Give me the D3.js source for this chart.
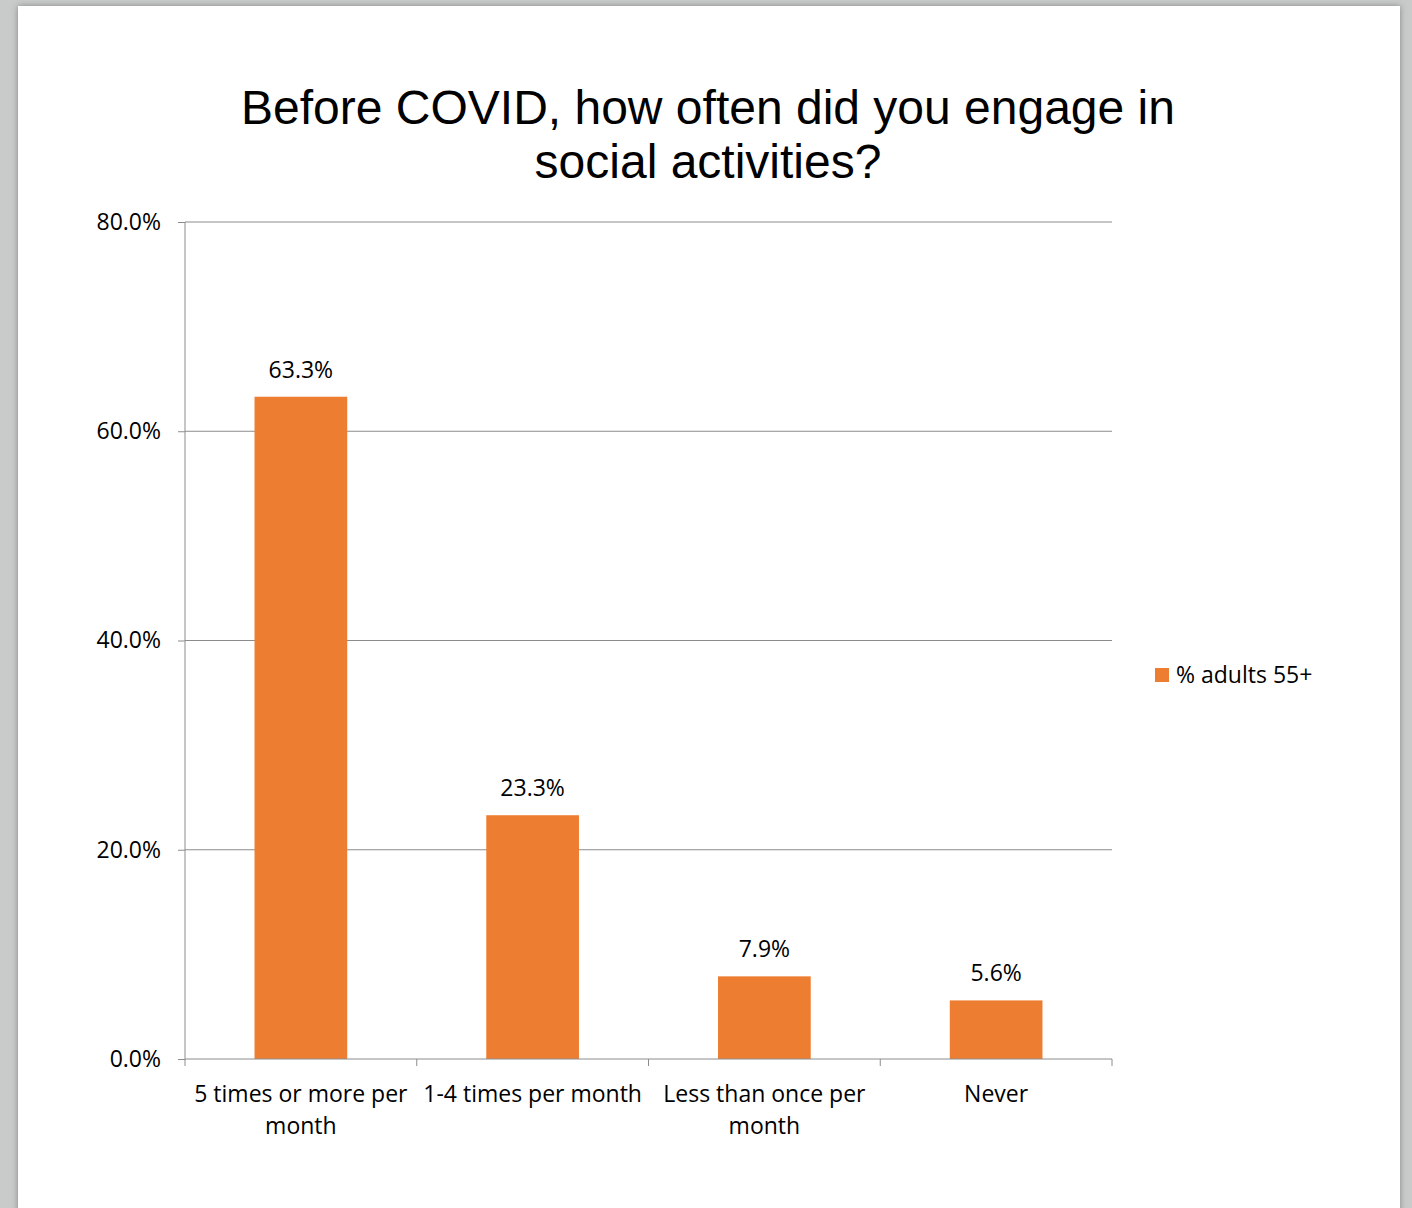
<!DOCTYPE html>
<html>
<head>
<meta charset="utf-8">
<script src="https://cdn.jsdelivr.net/npm/d3@7"></script>
<style>
  html, body { margin: 0; padding: 0; background: #c9cbca; }
  #chart { width: 1412px; height: 1208px; }
</style>
</head>
<body>
<div id="chart"></div>
<script>
// Datos del gráfico
const categories = [["5 times or more per", "month"], ["1-4 times per month"], ["Less than once per", "month"], ["Never"]];
const values = [63.3, 23.3, 7.9, 5.6];
const yTicks = [0, 20, 40, 60, 80];
const seriesName = "% adults 55+";
const titleLines = ["Before COVID, how often did you engage in", "social activities?"];

const W = 1412, H = 1208;
const margin = { top: 222, right: 300, bottom: 149, left: 185 };
const width = W - margin.left - margin.right;   // 927
const height = H - margin.top - margin.bottom;  // 837

const root = d3.select("#chart").html('')
  .append('svg')
  .attr('width', W)
  .attr('height', H);

// Fondo de página con sombra
const defs = root.append('defs');
const f = defs.append('filter').attr('id', 'shadow').attr('x', '-5%').attr('y', '-5%').attr('width', '110%').attr('height', '110%');
f.append('feDropShadow').attr('dx', 0).attr('dy', 0).attr('stdDeviation', 3).attr('flood-color', '#555').attr('flood-opacity', 0.6);

root.append('rect').attr('x', 0).attr('y', 0).attr('width', W).attr('height', H).attr('fill', '#c9cbca');
root.append('rect')
  .attr('x', 18).attr('y', 6).attr('width', 1382).attr('height', H)
  .attr('fill', '#fff')
  .attr('filter', 'url(#shadow)');

// Título
root.append('text')
  .attr('text-anchor', 'middle')
  .attr('font-family', '"Liberation Sans", Arial, sans-serif')
  .attr('font-size', 48)
  .attr('fill', '#000')
  .selectAll('tspan')
  .data(titleLines)
  .enter()
  .append('tspan')
  .attr('x', 708)
  .attr('y', (d, i) => 124 + i * 54)
  .text(d => d);

const svg = root.append('g')
  .attr('transform', `translate(${margin.left},${margin.top})`);

// Escalas
const x = d3.scaleBand()
  .domain(d3.range(categories.length))
  .range([0, width])
  .paddingInner(0)
  .paddingOuter(0);

const y = d3.scaleLinear()
  .domain([0, 80])
  .range([height, 0]);

const fontFam = '"Open Sans", sans-serif';
const fs = 23;

// Líneas de cuadrícula
svg.append('g')
  .selectAll('line')
  .data(yTicks.slice(1))
  .enter()
  .append('line')
  .attr('x1', 0).attr('x2', width)
  .attr('y1', d => y(d)).attr('y2', d => y(d))
  .attr('stroke', '#8c8c8c')
  .attr('stroke-width', 1);

// Eje Y
const yAxis = svg.append('g')
  .call(d3.axisLeft(y).tickValues(yTicks).tickSize(7).tickPadding(17).tickFormat(d => d.toFixed(1) + '%'));
yAxis.select('.domain').attr('stroke', '#8c8c8c').attr('d', `M0,0V${height}`);
yAxis.selectAll('.tick line').attr('stroke', '#8c8c8c');
yAxis.selectAll('text').attr('font-family', fontFam).attr('font-size', fs).attr('fill', '#000');

// Barras
const bw = x.bandwidth() * 0.4;
svg.selectAll('.bar')
  .data(values)
  .enter()
  .append('rect')
  .attr('class', 'bar')
  .attr('x', (d, i) => x(i) + (x.bandwidth() - bw) / 2)
  .attr('y', d => y(d))
  .attr('width', bw)
  .attr('height', d => height - y(d))
  .attr('fill', '#ed7d31');

// Etiquetas de valores
svg.selectAll('.val')
  .data(values)
  .enter()
  .append('text')
  .attr('x', (d, i) => x(i) + x.bandwidth() / 2)
  .attr('y', d => y(d) - 19)
  .attr('text-anchor', 'middle')
  .attr('font-family', fontFam)
  .attr('font-size', fs)
  .attr('fill', '#000')
  .text(d => d.toFixed(1) + '%');

// Eje X
const xAxisG = svg.append('g').attr('transform', `translate(0,${height})`);
xAxisG.append('line').attr('x1', 0).attr('x2', width).attr('stroke', '#8c8c8c');
xAxisG.selectAll('.xt')
  .data(d3.range(categories.length + 1))
  .enter()
  .append('line')
  .attr('x1', d => d * x.bandwidth()).attr('x2', d => d * x.bandwidth())
  .attr('y1', 0).attr('y2', 7)
  .attr('stroke', '#8c8c8c');
xAxisG.selectAll('.xl')
  .data(categories)
  .enter()
  .append('text')
  .attr('text-anchor', 'middle')
  .attr('font-family', fontFam)
  .attr('font-size', fs)
  .attr('fill', '#000')
  .each(function(d, i) {
    d3.select(this).selectAll('tspan')
      .data(d)
      .enter()
      .append('tspan')
      .attr('x', x(i) + x.bandwidth() / 2)
      .attr('y', (t, j) => 43 + j * 32)
      .text(t => t);
  });

// Leyenda
const leg = root.append('g').attr('transform', 'translate(1155,668)');
leg.append('rect').attr('width', 14).attr('height', 14).attr('fill', '#ed7d31');
leg.append('text')
  .attr('x', 21).attr('y', 15)
  .attr('font-family', fontFam)
  .attr('font-size', fs)
  .attr('fill', '#000')
  .text(seriesName);
</script>
</body>
</html>
